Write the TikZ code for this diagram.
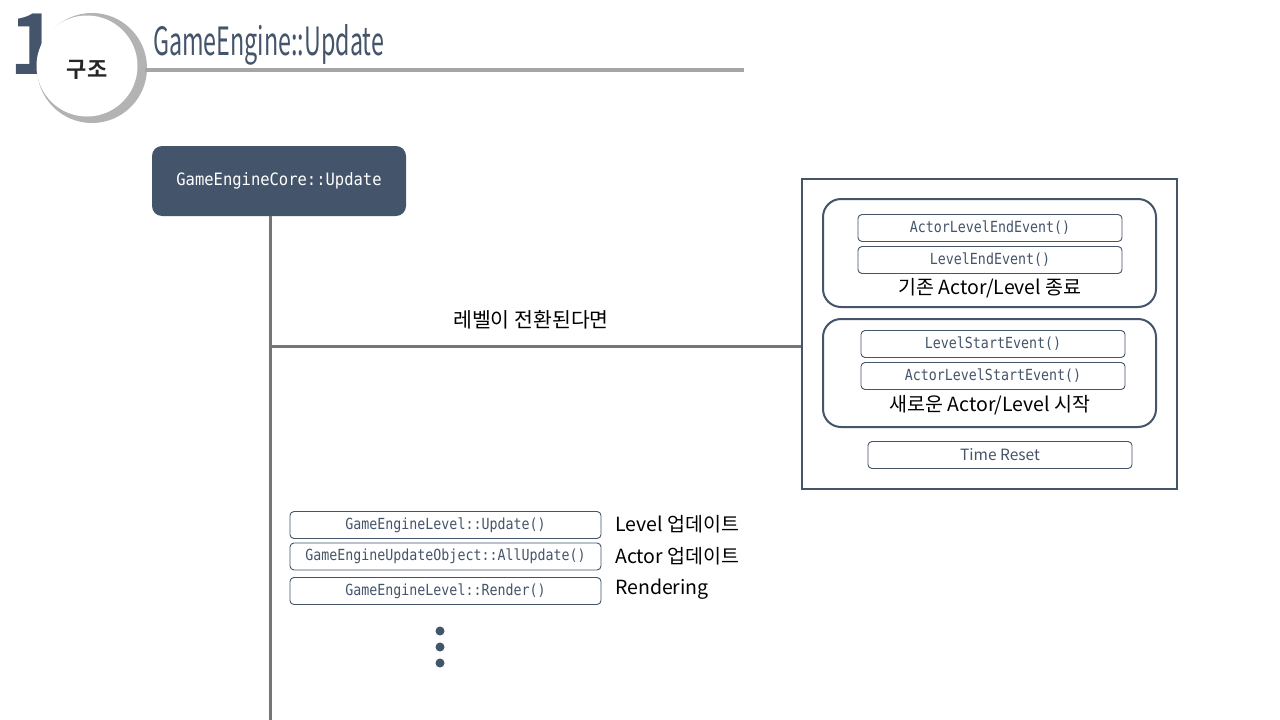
\documentclass[tikz,border=0pt]{standalone}
\usepackage{fontspec}
\setmainfont{Noto Sans CJK KR}
\newfontfamily\kr{Noto Sans CJK KR}
\newfontfamily\krb{Noto Sans CJK KR}[BoldFont={* Bold}]
\newfontfamily\monof{DejaVu Sans Mono}
\definecolor{navy}{HTML}{44546A}
\definecolor{linegray}{HTML}{767676}
\definecolor{titlegray}{HTML}{A6A6A6}
\newcommand{\tallmono}[1]{\scalebox{1}[1.15]{#1}}
\begin{document}
\begin{tikzpicture}[x=1pt,y=-1pt,
  fn/.style={draw=navy,line width=0.9pt,rounded corners=4pt,minimum height=27pt,inner sep=0pt,text=navy,font=\monof\fontsize{13.3}{15}\selectfont},
  grp/.style={draw=navy,line width=2pt,rounded corners=18pt},
  lbl/.style={font=\kr\fontsize{19.5}{22}\selectfont,text=black,inner sep=0pt},
  dotc/.style={circle,fill=navy,inner sep=0pt,minimum size=9pt}
]
\useasboundingbox (0,0) rectangle (1280,720);
\fill[white] (0,0) rectangle (1280,720);
% header
\node[anchor=center,text=navy,font=\krb\bfseries\fontsize{84}{84}\selectfont,inner sep=0pt] (one) at (34,44) {1};
\fill[titlegray!85] (92,68) circle (55);
\fill[white] (87,66) circle (50.5);
\node[font=\krb\bfseries\fontsize{22}{24}\selectfont,text=black!85,inner sep=0pt] (gu) at (87,70) {구조};
\node[anchor=west,inner sep=0pt,text=navy] (title) at (153,45) {\resizebox{231pt}{31pt}{\kr\fontsize{30}{32}\selectfont GameEngine::Update}};
\draw[titlegray,line width=4pt] (145,70) -- (744,70);
% core box
\node[fill=navy,rounded corners=10pt,minimum width=254pt,minimum height=70pt,inner sep=0pt,text=white,font=\monof\fontsize{15.5}{18}\selectfont] (core) at (279,181) {\scalebox{1}[1.1]{GameEngineCore::Update}};
% lines
\coordinate (vb) at (270,720);
\coordinate (jn) at (270,346);
\draw[linegray,line width=3pt] (core.south -| jn) -- (vb);
% outer box
\node[draw=navy,line width=2pt,minimum width=375pt,minimum height=310pt,inner sep=0pt] (outer) at (989.5,334) {};
\draw[linegray,line width=3pt] (jn) -- (outer.west |- jn);
\node[lbl,font=\kr\fontsize{20.5}{23}\selectfont] (cond) at (531,320) {레벨이 전환된다면};
% group 1
\node[grp,minimum width=333pt,minimum height=108pt,inner sep=0pt] (g1) at (989.5,253) {};
\node[fn,minimum width=264pt] (e1) at (990,228) {\tallmono{ActorLevelEndEvent()}};
\node[fn,minimum width=264pt] (e2) at (990,260) {\tallmono{LevelEndEvent()}};
\node[lbl] (l1) at (990,288) {기존 Actor/Level 종료};
% group 2
\node[grp,minimum width=333pt,minimum height=108pt,inner sep=0pt] (g2) at (989.5,373) {};
\node[fn,minimum width=264pt] (s1) at (993,344) {\tallmono{LevelStartEvent()}};
\node[fn,minimum width=264pt] (s2) at (993,376) {\tallmono{ActorLevelStartEvent()}};
\node[lbl] (l2) at (990,405) {새로운 Actor/Level 시작};
% time reset
\node[fn,minimum width=264pt,font=\kr\fontsize{15.5}{18}\selectfont] (tr) at (1000,455) {Time Reset};
% left boxes
\node[fn,minimum width=311pt] (u1) at (445.5,525) {\tallmono{GameEngineLevel::Update()}};
\node[fn,minimum width=311pt] (u2) at (445.5,556.5) {\tallmono{GameEngineUpdateObject::AllUpdate()}};
\node[fn,minimum width=311pt] (u3) at (445.5,591) {\tallmono{GameEngineLevel::Render()}};
\node[lbl,anchor=west] (t1) at (615,524) {Level 업데이트};
\node[lbl,anchor=west] (t2) at (615,556) {Actor 업데이트};
\node[lbl,anchor=west] (t3) at (615,589) {Rendering};
\node[dotc] (d1) at (440,631) {};
\node[dotc] (d2) at (440,647) {};
\node[dotc] (d3) at (440,663) {};
\end{tikzpicture}
\end{document}
